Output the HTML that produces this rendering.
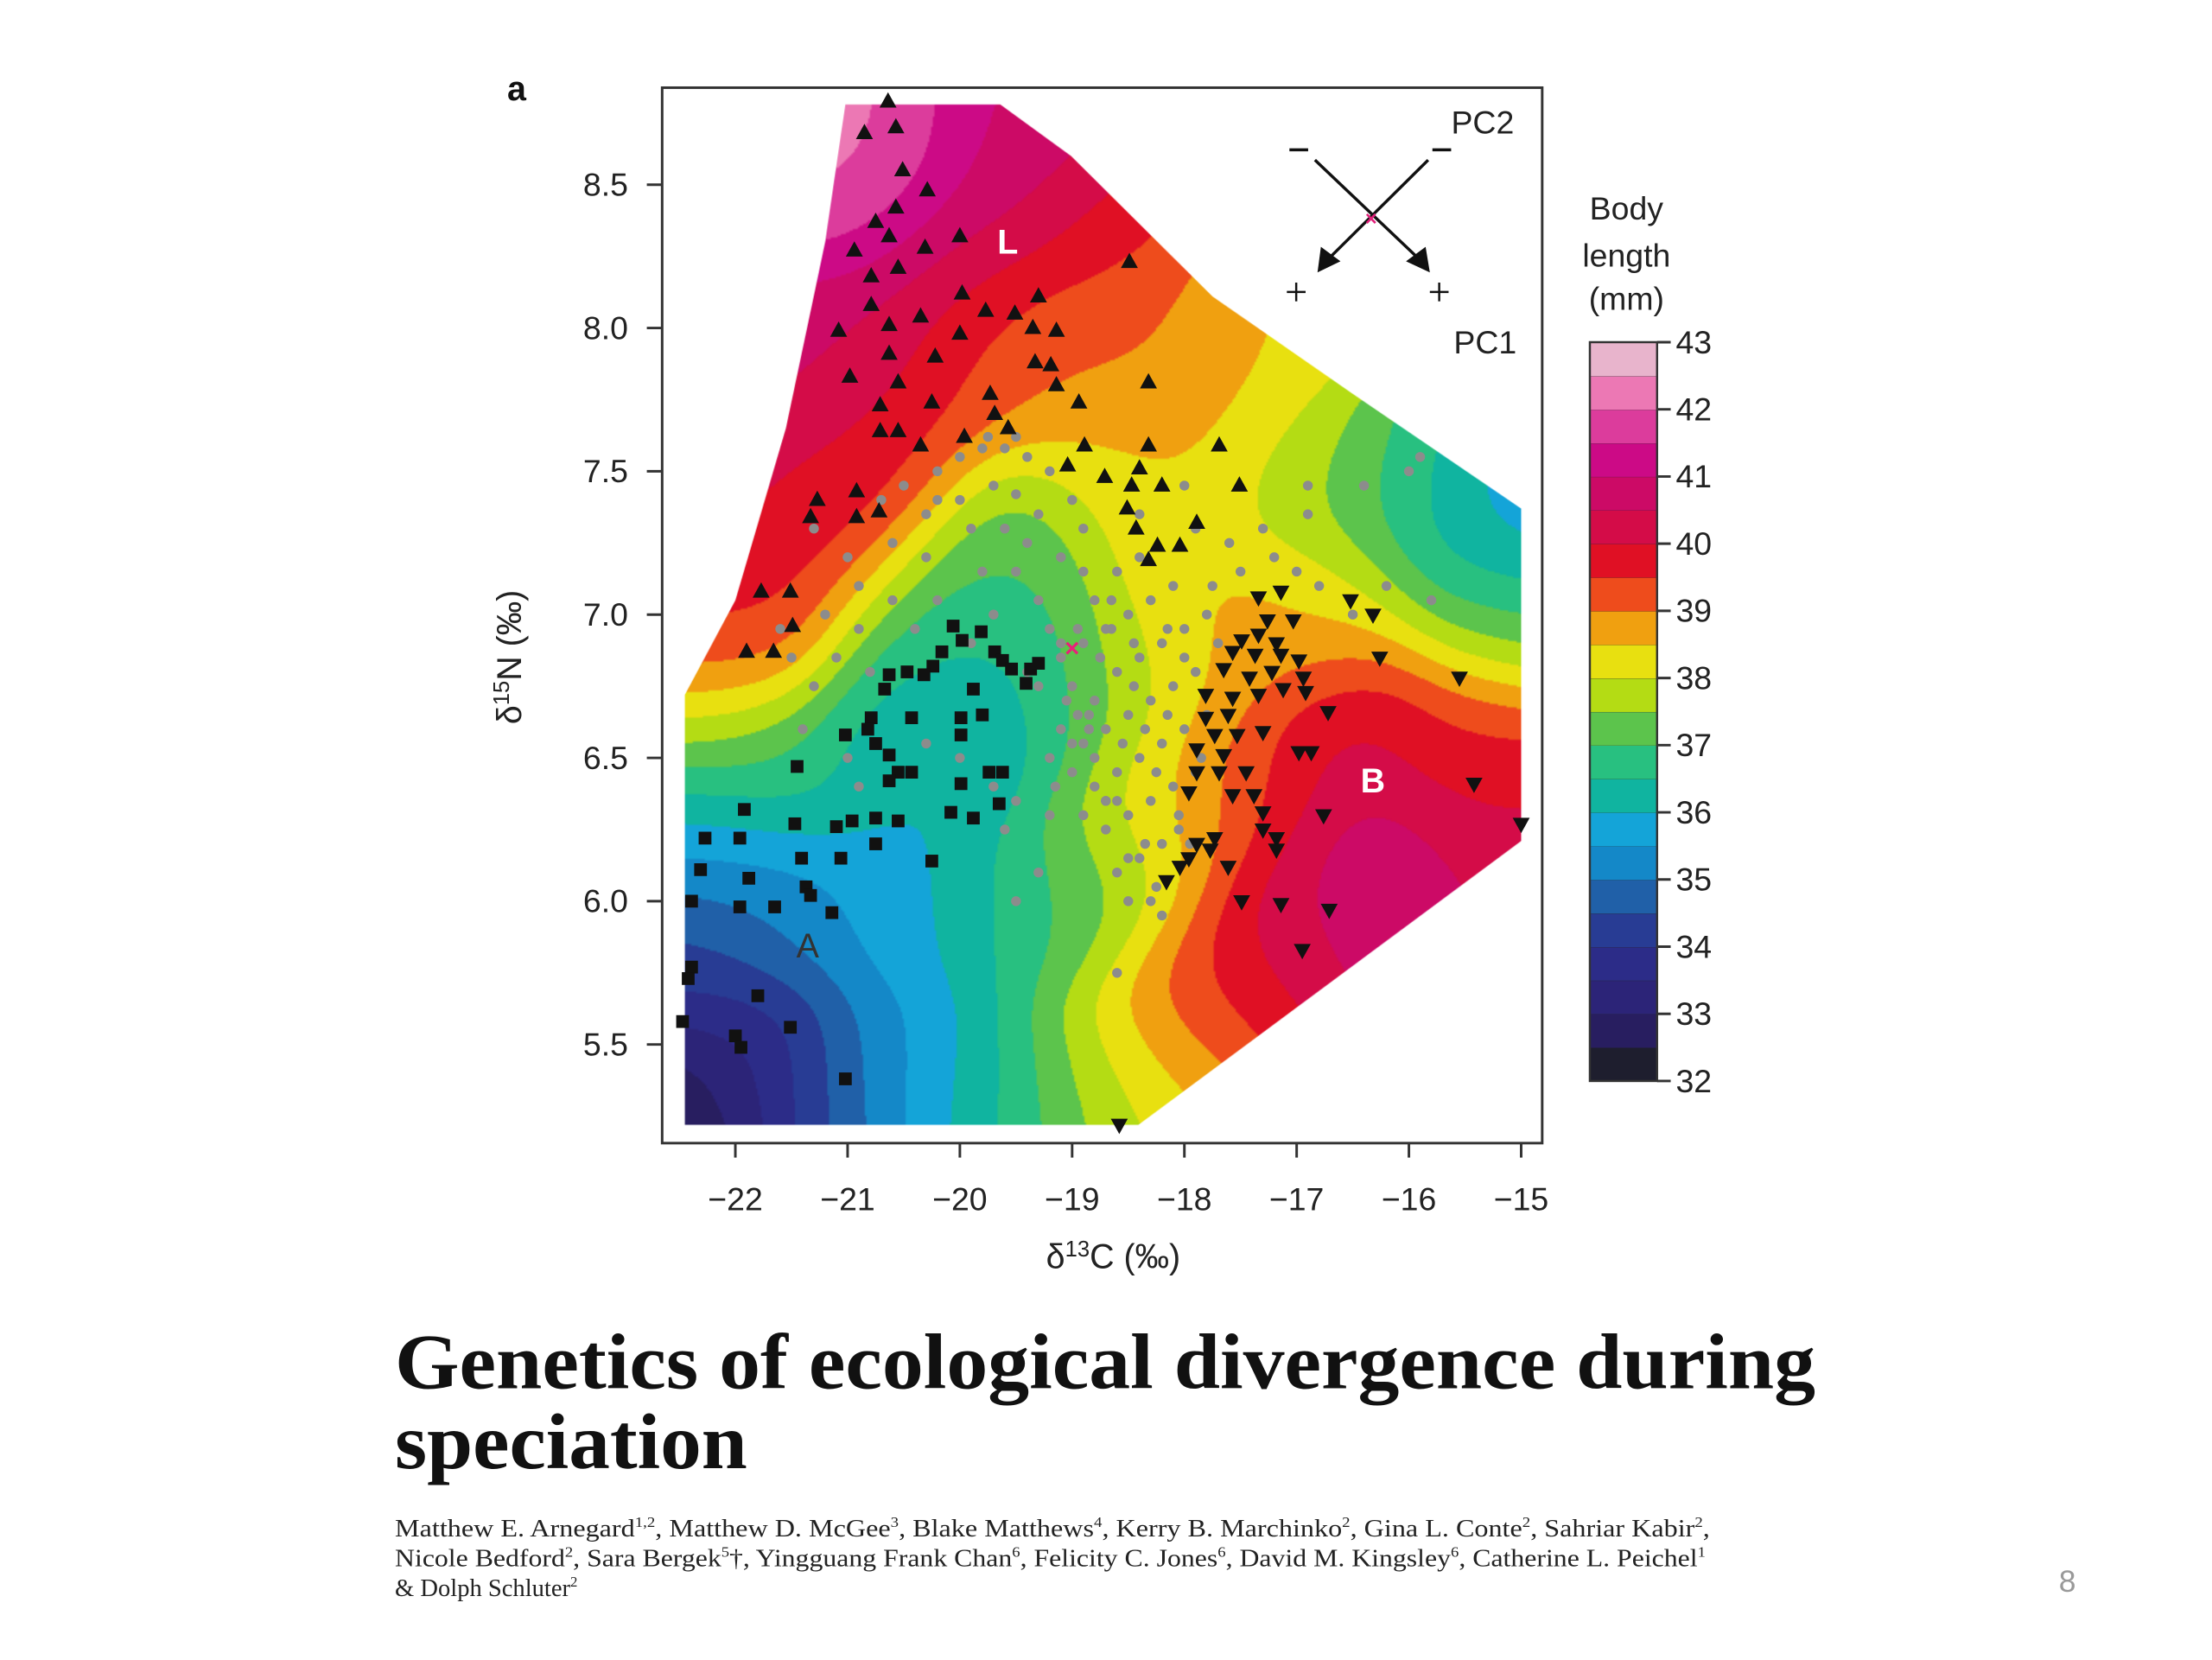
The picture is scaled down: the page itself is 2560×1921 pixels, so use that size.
<!DOCTYPE html>
<html><head><meta charset="utf-8"><style>
html,body{margin:0;padding:0;background:#fff;width:2560px;height:1920px;overflow:hidden}
#wrap{position:absolute;left:0;top:0;width:2600px;height:1950px;transform:scale(0.985);transform-origin:0 0}
#field{position:absolute;left:0;top:0}
#svg{position:absolute;left:0;top:0}
</style></head><body>
<div id="wrap">
<canvas id="field" width="2600" height="1950"></canvas>
<svg id="svg" width="2600" height="1950" xmlns="http://www.w3.org/2000/svg" font-family="Liberation Sans, sans-serif">
<g id="marks"></g>
<rect x="778" y="103" width="1034" height="1240" fill="none" stroke="#333" stroke-width="3"/>
<text x="596" y="118" font-size="40" font-weight="bold" fill="#111">a</text>
<g id="axes"></g>
<text x="1308" y="1490" font-size="40" text-anchor="middle" fill="#222">δ<tspan font-size="26" dy="-14">13</tspan><tspan dy="14">C (‰)</tspan></text>
<text transform="translate(612,772) rotate(-90)" font-size="40" text-anchor="middle" fill="#222">δ<tspan font-size="26" dy="-14">15</tspan><tspan dy="14">N (‰)</tspan></text>
<text x="1184" y="298" font-size="40" font-weight="bold" fill="#fff" text-anchor="middle">L</text>
<text x="1613" y="931" font-size="40" font-weight="bold" fill="#fff" text-anchor="middle">B</text>
<text x="949" y="1125" font-size="40" fill="#333" text-anchor="middle">A</text>
<g stroke="#111" stroke-width="3.5">
<line x1="1545" y1="188" x2="1668" y2="305"/>
<line x1="1678" y1="188" x2="1560" y2="305"/>
<polygon points="1548,320 1552,290 1575,307" fill="#111" stroke="none"/>
<polygon points="1680,320 1652,307 1675,290" fill="#111" stroke="none"/>
<line x1="1515" y1="176" x2="1537" y2="176"/><line x1="1683" y1="176" x2="1705" y2="176"/>
<line x1="1512" y1="343" x2="1534" y2="343" stroke-width="2.5"/><line x1="1523" y1="332" x2="1523" y2="354" stroke-width="2.5"/>
<line x1="1680" y1="343" x2="1702" y2="343" stroke-width="2.5"/><line x1="1691" y1="332" x2="1691" y2="354" stroke-width="2.5"/>
</g>
<text x="1611" y="265" font-size="24" fill="#e0207a" text-anchor="middle" font-weight="bold">×</text>
<text x="1742" y="157" font-size="38" fill="#222" text-anchor="middle">PC2</text>
<text x="1745" y="415" font-size="38" fill="#222" text-anchor="middle">PC1</text>
<g font-size="38" fill="#222" text-anchor="middle">
<text x="1911" y="258">Body</text><text x="1911" y="313">length</text><text x="1911" y="364">(mm)</text></g>
<g id="cbar"></g>
<text x="464" y="1631" font-family="Liberation Serif, serif" font-weight="bold" font-size="92" textLength="1669" lengthAdjust="spacingAndGlyphs" fill="#111">Genetics of ecological divergence during</text>
<text x="464" y="1725" font-family="Liberation Serif, serif" font-weight="bold" font-size="92" textLength="414" lengthAdjust="spacingAndGlyphs" fill="#111">speciation</text>
<g font-family="Liberation Serif, serif" font-size="29" fill="#222">
<text x="464" y="1805" textLength="1545" lengthAdjust="spacingAndGlyphs">Matthew E. Arnegard<tspan font-size="17" dy="-11">1,2</tspan><tspan dy="11">, Matthew D. McGee</tspan><tspan font-size="17" dy="-11">3</tspan><tspan dy="11">, Blake Matthews</tspan><tspan font-size="17" dy="-11">4</tspan><tspan dy="11">, Kerry B. Marchinko</tspan><tspan font-size="17" dy="-11">2</tspan><tspan dy="11">, Gina L. Conte</tspan><tspan font-size="17" dy="-11">2</tspan><tspan dy="11">, Sahriar Kabir</tspan><tspan font-size="17" dy="-11">2</tspan><tspan dy="11">,</tspan></text>
<text x="464" y="1840" textLength="1540" lengthAdjust="spacingAndGlyphs">Nicole Bedford<tspan font-size="17" dy="-11">2</tspan><tspan dy="11">, Sara Bergek</tspan><tspan font-size="17" dy="-11">5</tspan><tspan dy="11">†, Yingguang Frank Chan</tspan><tspan font-size="17" dy="-11">6</tspan><tspan dy="11">, Felicity C. Jones</tspan><tspan font-size="17" dy="-11">6</tspan><tspan dy="11">, David M. Kingsley</tspan><tspan font-size="17" dy="-11">6</tspan><tspan dy="11">, Catherine L. Peichel</tspan><tspan font-size="17" dy="-11">1</tspan></text>
<text x="464" y="1875">&amp; Dolph Schluter<tspan font-size="17" dy="-11">2</tspan></text>
</g>
<text x="2429" y="1870" font-size="36" fill="#999" text-anchor="middle">8</text>
</svg>
</div>
<script>
const xTicks=[-22,-21,-20,-19,-18,-17,-16,-15];
const yTicks=[5.5,6.0,6.5,7.0,7.5,8.0,8.5];
const cbarTicks=[32,33,34,35,36,37,38,39,40,41,42,43];
const binColors=["#1e1e2e","#281e60","#2c2478","#2c2c88","#283c94","#2060a8","#1488c8","#14a4d8","#10b4a0","#28c080","#5cc44c","#b4dc14","#e8e010","#f0a010","#ee4c1c","#e01024","#d40c48","#cc0a66","#cc0a86","#dc3c9c","#ec78b4","#e8b4cc"];
// control samples of body length field: [d13C, d15N, mm]
const fieldX=[-22.4,-21.9,-21.3,-22.3,-21.5,-20.7,-20.0,-19.3,-18.7,-18.3,-17.8,-17.0,-16.3,-15.3,-15.5,-16.5,-17.3,-17.9,-18.4,-18.8,-19.5,-20.5,-22.3,-22.3,-21.5,-20.6,-19.7,-19.0,-18.3,-17.6,-16.7,-15.3,-15.2,-16.0,-17.0,-17.8,-18.3,-17.5,-18.6,-19.3,-19.8,-20.6,-20.9,-21.0,-20.0,-20.6,-21.3,-21.8,-22.3,-21.2,-20.5,-19.8,-19.2,-18.8,-19.6,-20.5,-21.8,-18.3,-20.2,-19.6,-21.0];
const fieldY=[5.25,5.45,5.3,5.8,5.95,5.4,5.3,5.3,5.3,5.45,5.7,5.95,6.1,6.25,6.55,6.6,6.4,6.4,6.3,6.0,6.0,6.0,6.25,6.6,6.5,6.55,6.6,6.7,6.8,6.9,7.0,7.0,7.3,7.4,7.5,7.7,7.9,8.0,8.3,8.6,8.75,8.7,8.7,8.4,8.3,8.0,7.9,7.3,6.95,7.2,7.6,7.9,7.9,7.6,7.3,7.0,6.95,7.3,6.85,7.1,7.4];
const fieldV=[32.2,33.3,34.3,34.3,35.3,35.5,36.0,36.8,37.8,38.7,39.7,40.3,41.2,40.2,39.5,40.3,39.8,38.7,38.0,37.4,36.5,35.8,35.5,37.8,36.8,36.0,35.9,37.0,38.0,38.8,38.3,37.5,35.3,36.8,37.6,38.6,39.2,38.4,39.6,40.6,41.0,41.5,42.8,41.8,40.4,40.3,40.7,40.3,39.8,39.5,39.6,39.3,39.2,38.3,37.2,37.0,39.3,38.4,36.2,36.8,40.0];
const domainX=[-21.02,-19.64,-19.01,-17.75,-16.5,-15.0,-15.0,-18.41,-22.45,-22.45,-22.0,-21.55,-21.2];
const domainY=[8.78,8.78,8.6,8.11,7.77,7.37,6.21,5.22,5.22,6.72,7.05,7.65,8.3];
const triX=[-20.64,-20.85,-20.57,-20.51,-20.29,-20.57,-20.75,-20.63,-20.94,-20.31,-20.0,-20.79,-20.55,-19.98,-19.3,-18.49,-20.79,-20.63,-20.35,-19.77,-19.51,-21.08,-20.0,-19.35,-19.14,-20.63,-20.22,-19.33,-19.19,-20.98,-20.55,-18.32,-19.14,-18.94,-20.25,-20.71,-19.73,-19.69,-19.57,-20.71,-20.55,-20.35,-19.96,-18.89,-19.04,-18.71,-18.47,-18.32,-18.2,-17.69,-17.51,-18.4,-21.27,-21.33,-20.92,-20.92,-20.72,-18.51,-17.89,-18.24,-18.04,-18.43,-18.32,-21.77,-21.51,-21.9,-21.66,-21.49];
const triY=[8.79,8.68,8.7,8.55,8.48,8.42,8.37,8.32,8.27,8.28,8.32,8.18,8.21,8.12,8.11,8.23,8.08,8.01,8.04,8.06,8.05,7.99,7.98,8.0,7.99,7.91,7.9,7.88,7.87,7.83,7.81,7.81,7.8,7.74,7.74,7.73,7.77,7.7,7.65,7.64,7.64,7.59,7.62,7.59,7.52,7.48,7.45,7.59,7.45,7.59,7.45,7.51,7.4,7.34,7.43,7.34,7.36,7.37,7.32,7.24,7.24,7.3,7.19,7.08,7.08,6.87,6.87,6.96];
const sqX=[-20.06,-19.98,-19.81,-19.69,-19.62,-19.54,-19.37,-19.3,-19.41,-20.16,-20.24,-20.32,-20.47,-20.63,-20.67,-19.88,-19.8,-19.99,-19.99,-20.43,-20.79,-20.82,-20.75,-20.63,-20.55,-20.43,-20.63,-21.02,-21.45,-19.74,-19.62,-19.99,-20.08,-19.88,-19.65,-20.55,-20.75,-20.96,-21.1,-21.92,-21.47,-22.27,-21.96,-20.75,-21.06,-21.41,-20.25,-22.31,-21.88,-21.37,-21.33,-22.39,-21.96,-21.65,-21.14,-22.39,-22.42,-21.8,-22.47,-21.51,-22.0,-21.95,-21.02];
const sqY=[6.96,6.91,6.94,6.87,6.84,6.81,6.81,6.83,6.76,6.87,6.82,6.79,6.8,6.79,6.74,6.74,6.65,6.64,6.58,6.64,6.64,6.6,6.55,6.51,6.45,6.45,6.42,6.58,6.47,6.45,6.45,6.41,6.31,6.29,6.34,6.28,6.29,6.28,6.26,6.32,6.27,6.22,6.22,6.2,6.15,6.15,6.14,6.11,6.08,6.05,6.02,6.0,5.98,5.98,5.96,5.77,5.73,5.67,5.58,5.56,5.53,5.49,5.38];
const invX=[-17.34,-17.14,-16.52,-16.32,-17.26,-17.03,-17.34,-17.49,-17.18,-17.57,-17.37,-17.14,-16.98,-16.26,-17.65,-17.42,-17.22,-16.94,-15.55,-17.81,-17.57,-17.34,-17.12,-16.92,-16.72,-17.81,-17.61,-17.73,-17.53,-17.3,-17.89,-17.65,-16.98,-16.87,-17.89,-17.69,-17.45,-17.96,-17.57,-15.42,-17.3,-17.38,-16.76,-15.0,-17.3,-17.73,-17.18,-17.89,-17.77,-17.18,-17.61,-17.96,-18.04,-18.16,-17.49,-17.14,-16.71,-16.95,-18.58];
const invY=[7.06,7.08,7.05,7.0,6.98,6.98,6.93,6.91,6.9,6.87,6.86,6.86,6.84,6.85,6.81,6.78,6.8,6.78,6.78,6.72,6.71,6.72,6.74,6.73,6.66,6.64,6.65,6.58,6.58,6.59,6.53,6.51,6.52,6.52,6.45,6.45,6.45,6.38,6.37,6.41,6.31,6.37,6.3,6.27,6.25,6.22,6.22,6.2,6.18,6.18,6.12,6.15,6.12,6.07,6.0,5.99,5.97,5.83,5.22];
const dotX=[-20.5,-20.2,-20.0,-19.8,-19.6,-19.4,-19.2,-19.0,-18.9,-20.3,-20.0,-19.7,-19.5,-19.3,-20.6,-20.3,-19.9,-19.6,-19.1,-18.9,-20.9,-20.6,-20.2,-19.8,-19.5,-19.3,-21.2,-20.9,-21.0,-20.4,-19.7,-19.2,-21.5,-21.3,-21.6,-21.1,-20.8,-21.4,-21.0,-20.9,-20.3,-20.0,-19.7,-19.5,-19.2,-19.6,-19.3,-19.5,-19.1,-18.9,-18.7,-18.5,-18.3,-18.1,-18.6,-18.8,-19.0,-18.8,-18.6,-18.4,-18.2,-18.0,-17.8,-19.1,-18.9,-18.7,-18.5,-18.3,-18.1,-17.9,-19.2,-19.0,-18.8,-18.6,-18.4,-18.2,-18.0,-17.8,-18.9,-18.7,-18.5,-18.3,-18.1,-17.9,-18.6,-18.4,-18.2,-18.5,-18.3,-18.7,-19.05,-18.35,-18.15,-18.45,-18.75,-18.95,-18.65,-18.25,-18.05,-17.95,-18.55,-18.85,-19.15,-17.7,-17.75,-17.5,-17.2,-17.0,-16.8,-17.6,-17.3,-16.9,-16.9,-16.4,-16.0,-15.9,-16.5,-16.2,-15.8,-17.9,-18.0,-18.4,-18.6,-18.2,-19.75,-19.5,-20.2,-21.3,-20.7,-19.9,-19.4,-18.95,-18.45,-18.15,-17.85,-18.8,-18.6,-18.35,-18.05,-19.3,-19.0,-18.7,-18.5,-18.25,-18.0,-19.4,-19.1,-18.85,-18.65,-18.4];
const dotY=[7.45,7.5,7.55,7.58,7.58,7.55,7.5,7.4,7.3,7.35,7.4,7.45,7.42,7.35,7.25,7.2,7.3,7.3,7.2,7.15,7.1,7.05,7.05,7.15,7.15,7.05,7.0,6.95,7.2,6.95,7.0,6.95,6.85,6.75,6.95,6.85,6.8,6.6,6.5,6.4,6.55,6.5,6.4,6.35,6.3,6.25,6.1,6.0,6.85,6.9,6.95,7.0,7.05,7.1,7.15,7.05,6.75,6.7,6.8,6.85,6.9,6.95,7.0,6.6,6.55,6.6,6.65,6.7,6.75,6.8,6.5,6.45,6.4,6.45,6.5,6.55,6.6,6.65,6.3,6.25,6.3,6.35,6.4,6.45,6.1,6.15,6.2,6.0,6.0,6.35,6.7,6.6,6.95,6.75,6.85,6.95,7.05,6.45,6.3,6.2,6.55,6.6,6.4,6.9,7.1,7.15,7.2,7.15,7.1,7.25,7.3,7.35,7.45,7.45,7.5,7.55,7.0,7.1,7.05,7.3,7.45,7.35,5.75,5.95,7.62,7.62,7.4,7.3,7.4,6.9,6.8,6.65,6.9,6.65,6.5,6.5,6.35,6.2,6.25,6.75,6.55,6.35,6.15,6.05,6.85,7.25,6.9,6.65,6.95,7.2];

const NS='http://www.w3.org/2000/svg';
const X=v=>864+131.9*(v+22);
const Y=v=>217+336.7*(8.5-v);
function mk(tag,attrs,parent){const e=document.createElementNS(NS,tag);for(const k in attrs)e.setAttribute(k,attrs[k]);parent.appendChild(e);return e;}

(function(){
  const cv=document.getElementById('field');const ctx=cv.getContext('2d');
  const L=778,T=103,W=1034,H=1240,s=2;
  const w=Math.ceil(W/s),h=Math.ceil(H/s);
  const off=document.createElement('canvas');off.width=w;off.height=h;
  const oc=off.getContext('2d');const img=oc.createImageData(w,h);
  const px=fieldX.map(X),py=fieldY.map(Y);
  const rgb=binColors.map(c=>[parseInt(c.substr(1,2),16),parseInt(c.substr(3,2),16),parseInt(c.substr(5,2),16)]);
  const sig2=2*72*72;
  for(let j=0;j<h;j++){for(let i=0;i<w;i++){
    const gx=L+i*s,gy=T+j*s;let sw=0,sv=0;
    for(let k=0;k<px.length;k++){const dx=gx-px[k],dy=gy-py[k];const wt=Math.exp(-(dx*dx+dy*dy)/sig2)+1e-12;sw+=wt;sv+=wt*fieldV[k];}
    const v=sv/sw;let b=Math.floor((v-32)/0.5);b=Math.max(0,Math.min(21,b));
    const c=rgb[b];const o=(j*w+i)*4;img.data[o]=c[0];img.data[o+1]=c[1];img.data[o+2]=c[2];img.data[o+3]=255;}}
  oc.putImageData(img,0,0);
  ctx.save();ctx.beginPath();
  domainX.forEach((x,i)=>{i?ctx.lineTo(X(x),Y(domainY[i])):ctx.moveTo(X(x),Y(domainY[i]));});
  ctx.closePath();ctx.clip();ctx.imageSmoothingEnabled=true;
  ctx.drawImage(off,L,T,W,H);ctx.restore();
})();

const marks=document.getElementById('marks');
dotX.forEach((x,i)=>{const e=mk('circle',{cx:X(x),cy:Y(dotY[i]),r:5.8,fill:'#8c8c8c'},marks);

});
sqX.forEach((x,i)=>{const cx=X(x),cy=Y(sqY[i]);const e=mk('rect',{x:cx-7.5,y:cy-7.5,width:15,height:15,fill:'#111'},marks);

});
triX.forEach((x,i)=>{const cx=X(x),cy=Y(triY[i]);const e=mk('polygon',{points:`${cx},${cy-11} ${cx-10},${cy+7} ${cx+10},${cy+7}`,fill:'#111'},marks);

});
invX.forEach((x,i)=>{const cx=X(x),cy=Y(invY[i]);const e=mk('polygon',{points:`${cx},${cy+11} ${cx-10},${cy-7} ${cx+10},${cy-7}`,fill:'#111'},marks);

});
const mx=mk('text',{x:X(-19.0),y:Y(6.88)+9,'font-size':30,'font-weight':'bold',fill:'#e8207a','text-anchor':'middle'},marks);mx.textContent='×';



const axes=document.getElementById('axes');
xTicks.forEach(v=>{mk('line',{x1:X(v),x2:X(v),y1:1343,y2:1360,stroke:'#333','stroke-width':3},axes);
const t=mk('text',{x:X(v),y:1422,'font-size':38,'text-anchor':'middle',fill:'#222'},axes);t.textContent='−'+Math.abs(v);

});
yTicks.forEach(v=>{mk('line',{x1:760,x2:778,y1:Y(v),y2:Y(v),stroke:'#333','stroke-width':3},axes);
const t=mk('text',{x:738,y:Y(v)+13,'font-size':38,'text-anchor':'end',fill:'#222'},axes);t.textContent=v.toFixed(1);

});

const cb=document.getElementById('cbar');
const cTop=402,cBot=1270,cL=1868,cW=79,bh=(cBot-cTop)/binColors.length;
binColors.forEach((c,i)=>{const e=mk('rect',{x:cL,y:cBot-(i+1)*bh,width:cW,height:bh+0.5,fill:c},cb);


mk('line',{x1:cL,x2:cL+cW,y1:cBot-(i+1)*bh,y2:cBot-(i+1)*bh,stroke:'#222','stroke-width':1.5},cb);});
mk('rect',{x:cL,y:cTop,width:cW,height:cBot-cTop,fill:'none',stroke:'#333','stroke-width':2.5},cb);
cbarTicks.forEach(v=>{const y=cBot-(v-32)*2*bh;mk('line',{x1:cL+cW,x2:cL+cW+16,y1:y,y2:y,stroke:'#333','stroke-width':3},cb);
const t=mk('text',{x:cL+cW+22,y:y+13,'font-size':38,fill:'#222'},cb);t.textContent=v;

});
</script>
</body></html>
